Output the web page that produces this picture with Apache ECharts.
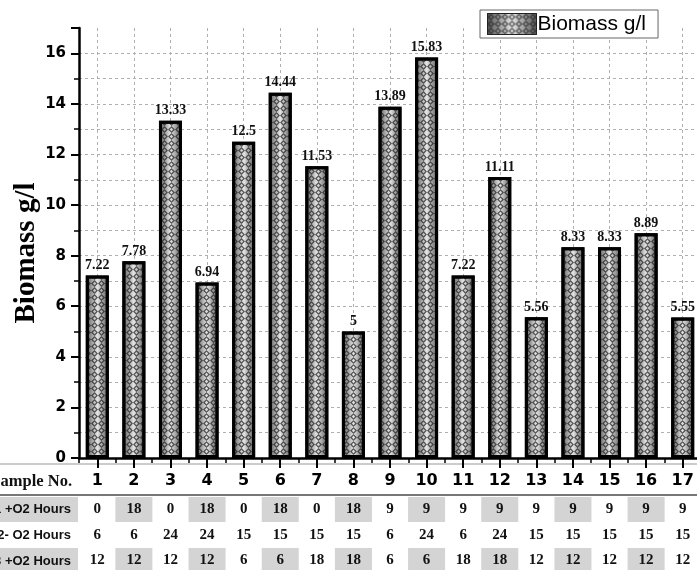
<!DOCTYPE html>
<html>
<head>
<meta charset="utf-8">
<script src="https://cdn.jsdelivr.net/npm/echarts@6/dist/echarts.min.js"></script>
<style>html,body{margin:0;padding:0;background:#fff}#c{width:697px;height:570px}</style>
</head>
<body>
<div id="c"></div>
<script>
const categories = ['1','2','3','4','5','6','7','8','9','10','11','12','13','14','15','16','17'];
const biomass = [7.22, 7.78, 13.33, 6.94, 12.5, 14.44, 11.53, 5, 13.89, 15.83, 7.22, 11.11, 5.56, 8.33, 8.33, 8.89, 5.55];
const o2Step1 = [0, 18, 0, 18, 0, 18, 0, 18, 9, 9, 9, 9, 9, 9, 9, 9, 9];
const o2Step2 = [6, 6, 24, 24, 15, 15, 15, 15, 6, 24, 6, 24, 15, 15, 15, 15, 15];
const o2Step3 = [12, 12, 12, 12, 6, 6, 18, 18, 6, 6, 18, 18, 12, 12, 12, 12, 12];
const yTicks = [0, 2, 4, 6, 8, 10, 12, 14, 16];
const rowLabels = ['1 +O2 Hours', '2- O2 Hours', '3 +O2 Hours'];
const headerLabel = 'Sample No.';
const seriesName = 'Biomass g/l';

const chart = echarts.init(document.getElementById('c'), null, {renderer: 'canvas'});

const barGradient = new echarts.graphic.LinearGradient(0, 0, 1, 0, [
  {offset: 0, color: '#505050'},
  {offset: 0.5, color: '#e6e6e6'},
  {offset: 1, color: '#505050'}
]);

function tableAxis(values, offset, shaded) {
  return {
    type: 'category', gridIndex: 0, position: 'bottom', offset: offset,
    data: categories,
    axisLine: {show: false}, axisTick: {show: false}, splitLine: {show: false},
    axisLabel: {
      interval: 0, margin: 0,
      formatter: function (v, i) {
        const t = String(values[i]);
        return (shaded && i % 2 === 1) ? '{g|' + t + '}' : '{w|' + t + '}';
      },
      rich: {
        g: {backgroundColor: '#d4d4d4', width: 37, height: 25, lineHeight: 25, align: 'center', verticalAlign: 'middle',
            fontFamily: 'Liberation Serif', fontWeight: 'bold', fontSize: 15, color: '#111'},
        w: {width: 37, height: 25, lineHeight: 25, align: 'center', verticalAlign: 'middle',
            fontFamily: 'Liberation Serif', fontWeight: 'bold', fontSize: 15, color: '#111'}
      }
    }
  };
}

const option = {
  backgroundColor: '#fff',
  animation: false,
  grid: {left: 79, right: -4, top: 28, bottom: 112, outerBoundsMode: 'none', containLabel: false},
  legend: {
    data: [seriesName], left: 480, top: 10,
    backgroundColor: '#fff', borderColor: '#666', borderWidth: 1,
    padding: [3, 12, 3, 7],
    itemWidth: 49, itemHeight: 21, icon: 'rect',
    itemStyle: {borderWidth: 1, borderColor: '#222'},
    textStyle: {fontFamily: 'Liberation Sans', fontSize: 21, color: '#000', padding: [0, 0, 0, -4]}
  },
  xAxis: [
    {
      type: 'category', gridIndex: 0, position: 'bottom', data: categories,
      axisLine: {show: true, lineStyle: {color: '#000', width: 2.5}},
      axisTick: {show: true, alignWithLabel: true, length: 10, lineStyle: {color: '#000', width: 2}},
      axisLabel: {interval: 0, margin: 15, fontFamily: 'DejaVu Sans', fontWeight: 'bold', fontSize: 16, color: '#000'},
      splitLine: {show: true, alignWithLabel: true, interval: 0, lineStyle: {color: '#b0b0b0', type: [3, 3], width: 1}}
    },
    {
      type: 'category', gridIndex: 0, position: 'bottom', data: categories,
      axisLine: {show: false},
      axisTick: {show: true, length: 5, interval: 0, lineStyle: {color: '#000', width: 1.5}},
      axisLabel: {show: false}, splitLine: {show: false}
    },
    tableAxis(o2Step1, 39, true),
    tableAxis(o2Step2, 64.5, false),
    tableAxis(o2Step3, 90, true)
  ],
  yAxis: {
    type: 'value', min: 0, max: 17, interval: 2,
    name: 'Biomass g/l', nameLocation: 'middle', nameGap: 38, nameMoveOverlap: false,
    nameTextStyle: {fontFamily: 'Liberation Serif', fontWeight: 'bold', fontSize: 29, color: '#000', padding: [0, 20, 0, 0]},
    axisLine: {show: true, lineStyle: {color: '#000', width: 2.5}},
    axisTick: {show: true, length: 8, lineStyle: {color: '#000', width: 2}},
    minorTick: {show: true, splitNumber: 2, length: 5, lineStyle: {color: '#000', width: 1.5}},
    axisLabel: {margin: 13, fontFamily: 'DejaVu Sans', fontWeight: 'bold', fontSize: 15, color: '#000',
      formatter: function (v) { return yTicks.indexOf(v) >= 0 ? String(v) : ''; }},
    splitLine: {show: true, showMaxLine: false, lineStyle: {color: '#b0b0b0', type: [3, 3], width: 1}},
    minorSplitLine: {show: true, lineStyle: {color: '#b0b0b0', type: [3, 3], width: 1}}
  },
  graphic: [
    {type: 'rect', shape: {x: 0, y: 497, width: 78, height: 25}, style: {fill: '#d4d4d4'}, z: 0},
    {type: 'rect', shape: {x: 0, y: 548, width: 78, height: 25}, style: {fill: '#d4d4d4'}, z: 0},
    {type: 'line', shape: {x1: 0, y1: 464, x2: 697, y2: 464}, style: {stroke: '#999', lineWidth: 1}, z: 0},
    {type: 'line', shape: {x1: 0, y1: 495, x2: 697, y2: 495}, style: {stroke: '#777', lineWidth: 2}, z: 1},
    {type: 'text', x: 72, y: 482, style: {text: headerLabel, align: 'right', verticalAlign: 'middle',
      font: 'bold 16.5px "Liberation Serif"', fill: '#111'}, z: 2},
    {type: 'text', x: 71, y: 509.5, style: {text: rowLabels[0], align: 'right', verticalAlign: 'middle',
      font: 'bold 13px "Liberation Sans"', fill: '#111'}, z: 2},
    {type: 'text', x: 71, y: 535.5, style: {text: rowLabels[1], align: 'right', verticalAlign: 'middle',
      font: 'bold 13px "Liberation Sans"', fill: '#111'}, z: 2},
    {type: 'text', x: 71, y: 561, style: {text: rowLabels[2], align: 'right', verticalAlign: 'middle',
      font: 'bold 13px "Liberation Sans"', fill: '#111'}, z: 2}
  ],
  series: [{
    name: seriesName, type: 'bar', xAxisIndex: 0, yAxisIndex: 0,
    data: biomass, barWidth: 23,
    itemStyle: {
      color: barGradient, borderColor: '#000', borderWidth: 3,
      decal: {
        symbol: 'path://M5,0L10,5L5,10L0,5Z M5,2.6L2.6,5L5,7.4L7.4,5Z',
        symbolSize: 1, symbolKeepAspect: false,
        color: 'rgba(30,30,30,0.7)', backgroundColor: null,
        dashArrayX: [[7, 0]], dashArrayY: [7, 0], rotation: 0
      }
    },
    label: {show: true, position: 'top', distance: 3, fontFamily: 'Liberation Serif', fontWeight: 'bold', fontSize: 14, color: '#111'}
  }]
};
chart.setOption(option);
</script>
</body>
</html>
